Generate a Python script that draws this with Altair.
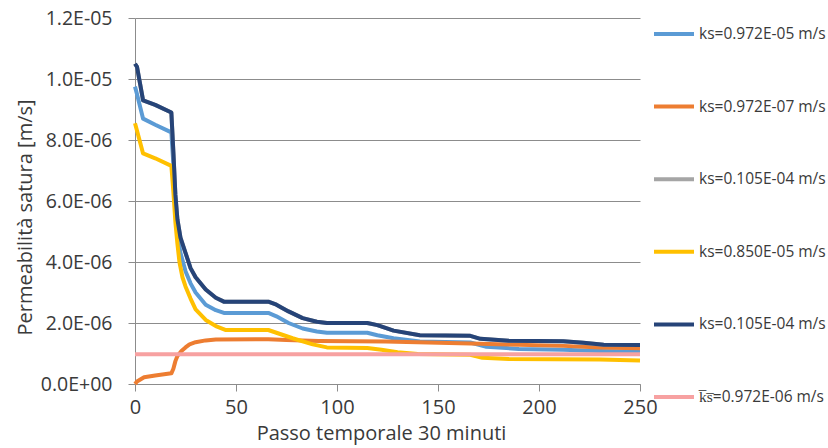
import altair as alt
import pandas as pd

# Series: id, legend text and colour (drawing order = list order)
series_ids = ["s1", "s2", "s3", "s4", "s5", "s6"]
series_labels = [
    "ks=0.972E-05 m/s",
    "ks=0.972E-07 m/s",
    "ks=0.105E-04 m/s",
    "ks=0.850E-05 m/s",
    "ks=0.105E-04 m/s",
    "k\u0305s\u0305=0.972E-06 m/s",
]
series_colors = ["#5B9BD5", "#ED7D31", "#A5A5A5", "#FFC000", "#264478", "#F7A1A1"]

# Time step (30 min) and saturated permeability [m/s]
step_s1 = [0, 1, 4, 10, 18, 19, 20, 21, 22.5, 25, 27.5, 30, 35, 40, 44, 66, 70, 76, 83, 90, 95,
           115, 120, 128, 141, 166, 174, 190, 212, 230, 250]
perm_s1 = [9.75e-6, 9.5e-6, 8.7e-6, 8.5e-6, 8.25e-6, 7.2e-6, 5.8e-6, 4.9e-6, 4.3e-6, 3.7e-6,
           3.3e-6, 3.0e-6, 2.6e-6, 2.42e-6, 2.33e-6, 2.33e-6, 2.22e-6, 2.0e-6, 1.82e-6, 1.72e-6,
           1.68e-6, 1.68e-6, 1.6e-6, 1.5e-6, 1.39e-6, 1.36e-6, 1.22e-6, 1.15e-6, 1.12e-6, 1.08e-6,
           1.06e-6]

step_s2 = [0, 1, 4.5, 10, 18, 19, 20, 21, 23, 25, 27, 30, 35, 40, 66, 75, 91, 124, 166, 180,
           212, 230, 250]
perm_s2 = [0.0, 0.08e-6, 0.22e-6, 0.28e-6, 0.35e-6, 0.5e-6, 0.75e-6, 0.92e-6, 1.08e-6, 1.2e-6,
           1.3e-6, 1.37e-6, 1.43e-6, 1.46e-6, 1.47e-6, 1.44e-6, 1.41e-6, 1.39e-6, 1.33e-6, 1.3e-6,
           1.25e-6, 1.2e-6, 1.17e-6]

step_s3 = [0, 1, 4, 10, 18, 19, 20, 21, 22.5, 25, 27.5, 30, 35, 40, 44, 66, 70, 76, 83, 90, 95,
           115, 120, 128, 141, 166, 171, 185, 212, 222, 232, 250]
perm_s3 = [10.5e-6, 10.4e-6, 9.3e-6, 9.15e-6, 8.9e-6, 7.6e-6, 6.2e-6, 5.4e-6, 4.8e-6, 4.3e-6,
           3.8e-6, 3.5e-6, 3.1e-6, 2.83e-6, 2.7e-6, 2.7e-6, 2.6e-6, 2.38e-6, 2.16e-6, 2.04e-6,
           2.0e-6, 2.0e-6, 1.93e-6, 1.75e-6, 1.6e-6, 1.58e-6, 1.48e-6, 1.42e-6, 1.4e-6, 1.35e-6,
           1.29e-6, 1.28e-6]

step_s4 = [0, 1, 4, 10, 18, 19, 20, 21, 22, 23.5, 25, 27.5, 30, 35, 40, 45, 66, 70, 78, 88, 95,
           115, 122, 130, 140, 166, 172, 185, 230, 250]
perm_s4 = [8.55e-6, 8.3e-6, 7.56e-6, 7.4e-6, 7.15e-6, 6.3e-6, 5.3e-6, 4.6e-6, 4.0e-6, 3.5e-6,
           3.2e-6, 2.8e-6, 2.45e-6, 2.1e-6, 1.9e-6, 1.77e-6, 1.77e-6, 1.68e-6, 1.5e-6, 1.3e-6,
           1.2e-6, 1.18e-6, 1.12e-6, 1.04e-6, 0.98e-6, 0.96e-6, 0.86e-6, 0.82e-6, 0.8e-6, 0.77e-6]

step_s5 = [0, 1, 4, 10, 18, 19, 20, 21, 22.5, 25, 27.5, 30, 35, 40, 44, 66, 70, 76, 83, 90, 95,
           115, 120, 128, 141, 166, 171, 185, 212, 222, 232, 250]
perm_s5 = [10.5e-6, 10.4e-6, 9.3e-6, 9.15e-6, 8.9e-6, 7.6e-6, 6.2e-6, 5.4e-6, 4.8e-6, 4.3e-6,
           3.8e-6, 3.5e-6, 3.1e-6, 2.83e-6, 2.7e-6, 2.7e-6, 2.6e-6, 2.38e-6, 2.16e-6, 2.04e-6,
           2.0e-6, 2.0e-6, 1.93e-6, 1.75e-6, 1.6e-6, 1.58e-6, 1.48e-6, 1.42e-6, 1.4e-6, 1.35e-6,
           1.29e-6, 1.28e-6]

step_s6 = [0, 250]
perm_s6 = [0.972e-6, 0.972e-6]

# Axis ticks and labels
x_ticks = [0, 50, 100, 150, 200, 250]
y_ticks = [0, 2e-6, 4e-6, 6e-6, 8e-6, 1.0e-5, 1.2e-5]
y_tick_labels = ["0.0E+00", "2.0E-06", "4.0E-06", "6.0E-06", "8.0E-06", "1.0E-05", "1.2E-05"]

steps = [step_s1, step_s2, step_s3, step_s4, step_s5, step_s6]
perms = [perm_s1, perm_s2, perm_s3, perm_s4, perm_s5, perm_s6]

rows = []
for sid, xs, ys in zip(series_ids, steps, perms):
    for i, (xv, yv) in enumerate(zip(xs, ys)):
        rows.append({"series": sid, "step": xv, "perm": yv, "idx": i})
df = pd.DataFrame(rows)

FONT = "Open Sans"
TEXT = "#3a3a3a"
GRID = "#8c8c8c"

id_list = "[" + ",".join(f"'{s}'" for s in series_ids) + "]"
label_list = "[" + ",".join(f"'{s}'" for s in series_labels) + "]"
ylab_list = "[" + ",".join(f"'{s}'" for s in y_tick_labels) + "]"

base = alt.Chart(df).mark_line(strokeWidth=4, strokeJoin="round").encode(
    x=alt.X(
        "step:Q",
        scale=alt.Scale(domain=[0, 250], nice=False, zero=False),
        axis=alt.Axis(
            values=x_ticks,
            title="Passo temporale 30 minuti",
            grid=False,
            labelFlush=False,
            labelFontSize=20,
            labelPadding=6,
            titleFontSize=20,
            titleX=246,
            titleY=49,
            titleBaseline="middle",
            tickSize=7,
        ),
    ),
    y=alt.Y(
        "perm:Q",
        scale=alt.Scale(domain=[0, 1.2e-5], nice=False),
        axis=alt.Axis(
            values=y_ticks,
            labelExpr=f"{ylab_list}[round(datum.value * 500000)]",
            title="Permeabilità satura [m/s]",
            grid=True,
            labelFontSize=19.5,
            labelPadding=16,
            titleFontSize=20,
            titleAngle=270,
            titleX=-110,
            titleY=199,
            titleAlign="center",
            titleBaseline="middle",
            tickSize=7,
        ),
    ),
    color=alt.Color(
        "series:N",
        scale=alt.Scale(domain=series_ids, range=series_colors),
        legend=alt.Legend(
            title=None,
            orient="none",
            legendX=517,
            legendY=-6,
            direction="vertical",
            symbolType="stroke",
            symbolSize=1600,
            symbolStrokeWidth=4,
            labelFontSize=15.5,
            labelOffset=3,
            labelLimit=250,
            rowPadding=41.6,
            padding=0,
            labelExpr=f"{label_list}[indexof({id_list}, datum.value)]",
        ),
    ),
    order="idx:Q",
)

layers = [base.transform_filter(alt.datum.series == sid) for sid in series_ids]

chart = (
    alt.layer(*layers)
    .properties(
        width=505,
        height=366,
        autosize=alt.AutoSizeParams(type="none"),
        padding={"left": 135, "top": 18, "right": 188, "bottom": 64},
    )
    .configure(font=FONT, background="white")
    .configure_view(stroke=None)
    .configure_axis(
        domainColor=GRID,
        tickColor=GRID,
        gridColor=GRID,
        gridWidth=1,
        labelColor=TEXT,
        titleColor=TEXT,
        titleFontWeight="normal",
        labelFont=FONT,
        titleFont=FONT,
    )
    .configure_legend(labelColor=TEXT, labelFont=FONT)
)

chart.save("out.html", embed_options={"renderer": "svg", "actions": False})
